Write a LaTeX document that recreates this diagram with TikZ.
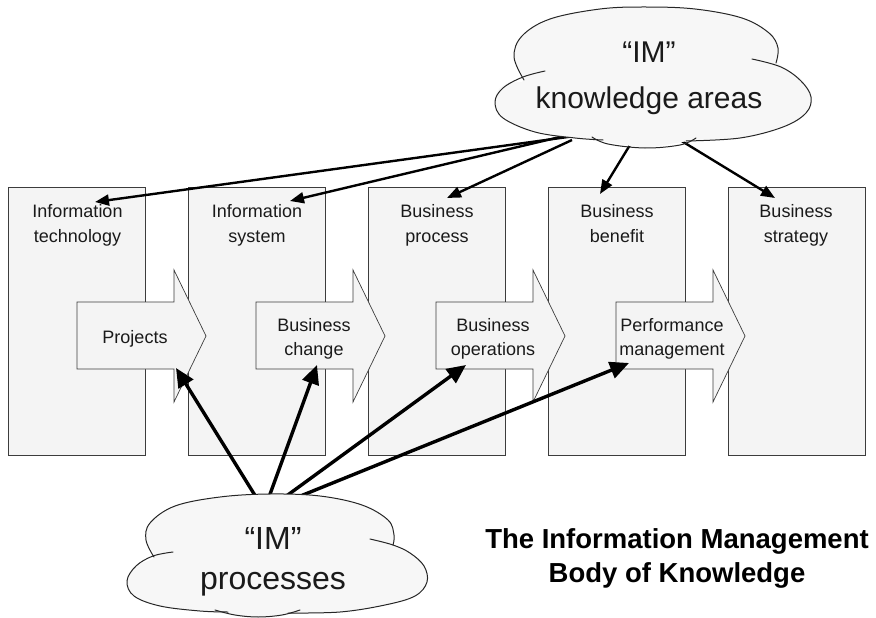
\documentclass[tikz,border=0pt]{standalone}
\usepackage{fontspec}
\setmainfont{Liberation Sans}
\usetikzlibrary{arrows.meta}
\definecolor{boxfill}{HTML}{F4F4F4}
\definecolor{boxline}{HTML}{3C3C3C}
\definecolor{cloudfill}{HTML}{F7F7F7}
\definecolor{txt}{HTML}{1A1A1A}
\begin{document}
\begin{tikzpicture}[x=1pt,y=-1pt,
  colbox/.style={fill=boxfill,draw=boxline,line width=1pt,inner sep=0pt,outer sep=0pt,
    minimum width=137pt,minimum height=268pt,anchor=north west},
  blockarrow/.style={fill=boxfill,draw=boxline,line width=0.7pt,line join=miter},
  cloudline/.style={draw=black!85,line width=1pt,line cap=round},
  lbl/.style={text=txt,inner sep=0pt,align=center,anchor=north,font=\fontsize{18}{25}\selectfont},
  alabel/.style={text=txt,inner sep=0pt,align=center,anchor=north,font=\fontsize{18}{24}\selectfont},
  toparrow/.style={line width=2.4pt,-{Triangle[length=14pt,width=11pt]}},
  botarrow/.style={line width=3.4pt,-{Triangle[length=19pt,width=17pt]}},
]
\useasboundingbox (0,0) rectangle (876,618);

% columns
\node[colbox] (b1) at (8,187) {};
\node[colbox] (b2) at (188,187) {};
\node[colbox] (b3) at (368,187) {};
\node[colbox] (b4) at (548,187) {};
\node[colbox] (b5) at (728,187) {};

% block arrows
\foreach \cx in {77,256,436,616}{
  \draw[blockarrow] (\cx,302) -- (\cx+97,302) -- (\cx+97,270) -- (\cx+129,336)
     -- (\cx+97,402) -- (\cx+97,369) -- (\cx,369) -- cycle;
}

% column labels
\node[lbl] (l1) at (77.5,204) {Information\\technology};
\node[lbl] (l2) at (257,204) {Information\\system};
\node[lbl] (l3) at (437,204) {Business\\process};
\node[lbl] (l4) at (617,204) {Business\\benefit};
\node[lbl] (l5) at (796,204) {Business\\strategy};

% arrow labels
\node[alabel,anchor=base] (a1) at (135,343) {Projects};
\node[alabel] (a2) at (314,318) {Business\\change};
\node[alabel] (a3) at (493,318) {Business\\operations};
\node[alabel] (a4) at (672,318) {Performance\\management};

% connector end points
\coordinate (k1) at (575,136);
\coordinate (k2) at (560,137);
\coordinate (k3) at (572,140);
\coordinate (k4) at (633,140);
\coordinate (k5) at (680,140);
\coordinate (t1) at (95,202);
\coordinate (t2) at (290,201);
\coordinate (t3) at (447,198);
\coordinate (t4) at (600,194);
\coordinate (t5) at (775,198);

\coordinate (p1) at (256,497);
\coordinate (p2) at (269,497);
\coordinate (p3) at (285,497);
\coordinate (p4) at (298,497);
\coordinate (q1) at (176,368);
\coordinate (q2) at (317,365);
\coordinate (q3) at (466,365);
\coordinate (q4) at (629,363);

\draw[toparrow] (k1) -- (t1);
\draw[toparrow] (k2) -- (t2);
\draw[toparrow] (k3) -- (t3);
\draw[toparrow] (k4) -- (t4);
\draw[toparrow] (k5) -- (t5);

\draw[botarrow] (p1) -- (q1);
\draw[botarrow] (p2) -- (q2);
\draw[botarrow] (p3) -- (q3);
\draw[botarrow] (p4) -- (q4);

% top cloud
\fill[cloudfill] plot[smooth cycle, tension=0.6] coordinates {(524,80) (514,57) (522,36) (550,19) (600,9) (645,7) (695,9) (742,18) (769,33) (778,48) (778,63) (801,79) (811,97) (806,113) (783,127) (740,138) (690,141) (645,147) (600,141) (560,136) (520,126) (497,110) (497,92) (510,82)};
\draw[cloudline] plot[smooth, tension=0.6] coordinates {(524,80) (514,57) (522,36) (550,19) (600,9) (645,7) (695,9) (742,18) (769,33) (778,48) (776,63)};
\draw[cloudline] plot[smooth, tension=0.6] coordinates {(545,71) (523,77) (503,88) (495,102) (503,118) (535,132) (575,138) (603,140)};
\draw[cloudline] plot[smooth, tension=0.6] coordinates {(592,137) (608,144) (645,148) (680,145) (696,138)};
\draw[cloudline] plot[smooth, tension=0.6] coordinates {(686,141) (740,138) (783,127) (806,113) (811,97) (801,81) (781,67) (752,59)};
\node[text=txt,inner sep=0pt,align=center,anchor=north,font=\fontsize{30}{46}\selectfont] (ka) at (649,42) {“IM”\\knowledge areas};

% bottom cloud
\fill[cloudfill] plot[smooth cycle, tension=0.6] coordinates {(154,557) (146,540) (150,523) (175,506) (220,497) (270,494) (320,496) (362,505) (388,520) (394,535) (395,546) (412,554) (424,566) (427,582) (415,596) (385,605) (340,612) (290,614) (258,617) (225,614) (190,610) (160,606) (134,596) (127,581) (136,566)};
\draw[cloudline] plot[smooth, tension=0.6] coordinates {(154,557) (146,540) (150,523) (175,506) (220,497) (270,494) (320,496) (362,505) (388,520) (394,535) (393,545)};
\draw[cloudline] plot[smooth, tension=0.6] coordinates {(173,552) (153,556) (136,566) (127,581) (134,596) (160,606) (200,611) (228,612)};
\draw[cloudline] plot[smooth, tension=0.6] coordinates {(215,610) (235,615) (258,617) (282,615) (300,610)};
\draw[cloudline] plot[smooth, tension=0.6] coordinates {(288,613) (340,612) (385,605) (415,596) (427,582) (424,566) (410,553) (393,545) (370,539)};
\node[text=txt,inner sep=0pt,align=center,anchor=north,font=\fontsize{32}{40}\selectfont] (pr) at (273,527) {“IM”\\processes};

% title
\node[inner sep=0pt,align=center,anchor=north,font=\bfseries\fontsize{27.5}{34}\selectfont] (title) at (677,528) {The Information Management\\Body of Knowledge};
\end{tikzpicture}
\end{document}
